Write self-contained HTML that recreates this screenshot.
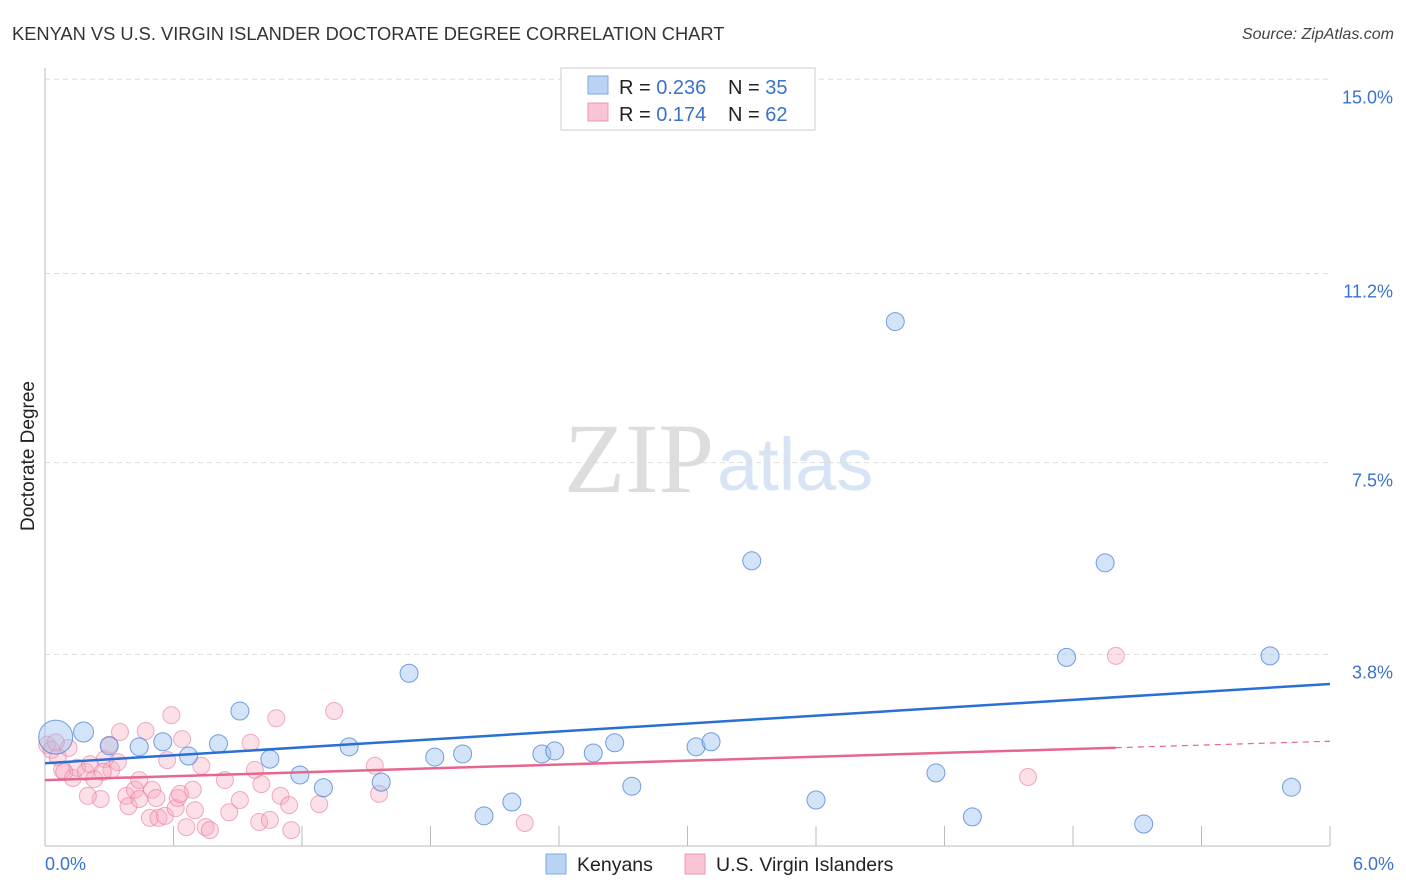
<!DOCTYPE html>
<html><head><meta charset="utf-8"><style>
body{margin:0;background:#fff;font-family:"Liberation Sans",sans-serif;}
svg{display:block}
</style></head><body>
<svg id="chart" width="1406" height="892">
<text x="12" y="40" font-size="18.3" fill="#333">KENYAN VS U.S. VIRGIN ISLANDER DOCTORATE DEGREE CORRELATION CHART</text>
<text x="1394" y="39" font-size="16" fill="#444" font-style="italic" text-anchor="end">Source: ZipAtlas.com</text>
<text x="34" y="456" font-size="19" fill="#222" text-anchor="middle" transform="rotate(-90 34 456)">Doctorate Degree</text>
<text x="714" y="492" font-size="100" fill="#ddd" text-anchor="end" font-family="Liberation Serif,serif">ZIP</text>
<text x="717" y="490" font-size="74" fill="#d6e4f5">atlas</text>
<g id="grid"></g><g id="marks"></g>
<g>
<rect x="561" y="68" width="254" height="62" fill="#fff" stroke="#ccc"/>
<rect x="588" y="76" width="20" height="18" fill="#b9d3f5" stroke="#7fa8e0"/>
<rect x="588" y="103" width="20" height="18" fill="#f9c4d4" stroke="#ec9ab3"/>
<text x="619" y="94" font-size="20" fill="#222">R = <tspan fill="#3a72cc">0.236</tspan><tspan x="728">N = </tspan><tspan fill="#3a72cc">35</tspan></text>
<text x="619" y="121" font-size="20" fill="#222">R = <tspan fill="#3a72cc"> 0.174</tspan><tspan x="728">N = </tspan><tspan fill="#3a72cc">62</tspan></text>
</g>
<g>
<rect x="546" y="854" width="20" height="20" fill="#b9d3f5" stroke="#7fa8e0"/>
<text x="577" y="871" font-size="19.5" fill="#222">Kenyans</text>
<rect x="685" y="854" width="20" height="20" fill="#f9c4d4" stroke="#ec9ab3"/>
<text x="716" y="871" font-size="19.5" fill="#222">U.S. Virgin Islanders</text>
</g>
</svg>
<script>
const yTicks=[3.8,7.5,11.2,15.0];
const yTickLabels=["3.8%","7.5%","11.2%","15.0%"];
const xTickLabels=["0.0%","6.0%"];
const kenyanX=[0.05,0.18,0.30,0.44,0.55,0.67,0.81,0.91,1.05,1.19,1.30,1.42,1.57,1.70,1.82,1.95,2.05,2.18,2.32,2.38,2.56,2.66,2.74,3.04,3.11,3.30,3.60,3.97,4.16,4.33,4.77,4.95,5.13,5.72,5.82];
const kenyanY=[2.13,2.23,1.96,1.94,2.04,1.76,2.00,2.64,1.70,1.39,1.14,1.94,1.25,3.38,1.74,1.80,0.59,0.86,1.80,1.86,1.82,2.02,1.17,1.94,2.04,5.58,0.90,10.26,1.43,0.57,3.69,5.54,0.43,3.72,1.15];
const kenyanR=[17,10,9,9,9,9,9,9,9,9,9,9,9,9,9,9,9,9,9,9,9,9,9,9,9,9,9,9,9,9,9,9,9,9,9,9,9];
const usviX=[0.01,0.03,0.06,0.08,0.11,0.13,0.15,0.19,0.21,0.23,0.26,0.28,0.30,0.31,0.34,0.35,0.38,0.39,0.42,0.44,0.47,0.49,0.50,0.52,0.53,0.56,0.59,0.61,0.62,0.64,0.66,0.69,0.70,0.73,0.75,0.77,0.84,0.96,0.98,1.00,1.01,1.05,1.08,1.10,1.15,1.28,1.35,1.54,1.56,2.24,4.59,5.00,0.05,0.09,0.20,0.27,0.44,0.57,0.63,0.91,1.14,0.86];
const usviY=[1.98,1.88,1.74,1.49,1.92,1.33,1.53,1.45,1.60,1.31,0.92,1.70,1.98,1.49,1.64,2.23,0.98,0.78,1.10,0.92,2.25,0.55,1.10,0.94,0.55,0.59,2.56,0.74,0.94,2.09,0.37,1.10,0.70,1.57,0.37,0.31,1.29,2.02,1.49,0.47,1.21,0.51,2.50,0.98,0.31,0.82,2.64,1.57,1.02,0.45,1.35,3.72,2.03,1.45,0.98,1.45,1.29,1.68,1.02,0.90,0.80,0.66];
const kenyanFit=[1.62,3.17];
const usviFit=[1.29,2.05];
const X=v=>45+v/6*1285, Y=v=>846-v/15*766.7;
const NS="http://www.w3.org/2000/svg";
const grid=document.getElementById('grid'), marks=document.getElementById('marks');
function mk(tag,attrs,parent){const e=document.createElementNS(NS,tag);for(const k in attrs)e.setAttribute(k,attrs[k]);parent.appendChild(e);return e;}
yTicks.forEach((t,i)=>{
 const l=mk('line',{x1:45,x2:1330,y1:Y(t===3.8?3.75:t),y2:Y(t===3.8?3.75:t),stroke:'#ddd','stroke-dasharray':'5,4'},grid);
 
 
 const tx=mk('text',{x:1393,y:Y(t===3.8?3.75:t)+24,'font-size':18,fill:'#3a72cc','text-anchor':'end'},grid);
 tx.textContent=yTickLabels[i];
 
 
});
const ax=mk('line',{x1:45,x2:45,y1:68,y2:846,stroke:'#bbb'},grid);


const bx=mk('line',{x1:45,x2:1330,y1:846,y2:846,stroke:'#bbb'},grid);


for(let i=1;i<=10;i++){const t=mk('line',{x1:X(i*0.6),x2:X(i*0.6),y1:826,y2:846,stroke:'#bbb'},grid);
 
 }
[[0,'start',45],[6,'end',1394]].forEach((d,i)=>{const t=mk('text',{x:d[2],y:870,'font-size':18,fill:'#3a72cc','text-anchor':d[1]},grid);t.textContent=xTickLabels[i];
 
 });
usviX.forEach((x,i)=>{const c=mk('circle',{cx:X(x),cy:Y(usviY[i]),r:8.5,fill:'rgba(246,166,190,0.35)',stroke:'rgba(232,120,155,0.6)','stroke-width':1},marks);
 
 });
kenyanX.forEach((x,i)=>{const c=mk('circle',{cx:X(x),cy:Y(kenyanY[i]),r:kenyanR[i],fill:'rgba(160,196,240,0.45)',stroke:'rgba(60,120,210,0.7)','stroke-width':1},marks);
 
 });
const f=(a,x)=>a[0]+(a[1]-a[0])*x/6;
const kl=mk('line',{x1:X(0),y1:Y(f(kenyanFit,0)),x2:X(6),y2:Y(f(kenyanFit,6)),stroke:'#2a6fd6','stroke-width':2.5},marks);


const ul=mk('line',{x1:X(0),y1:Y(f(usviFit,0)),x2:X(5.0),y2:Y(f(usviFit,5.0)),stroke:'#e8658e','stroke-width':2.5},marks);


const ud=mk('line',{x1:X(5.0),y1:Y(f(usviFit,5.0)),x2:X(6),y2:Y(f(usviFit,6)),stroke:'#e8658e','stroke-width':1.2,'stroke-dasharray':'6,5'},marks);


</script>
</body></html>
